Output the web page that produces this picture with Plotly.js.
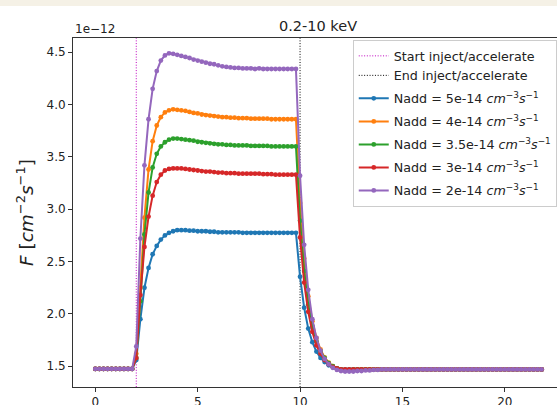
<!DOCTYPE html>
<html>
<head>
<meta charset="utf-8">
<script src="https://cdn.plot.ly/plotly-3.0.1.min.js"></script>
<style>
  html, body { margin: 0; padding: 0; background: #ffffff; overflow: hidden; }
  #strip { width: 557px; height: 6px; background: #f5f1e6; }
  #chart { width: 557px; height: 399px; }
</style>
</head>
<body>
<div id="strip"></div>
<div id="chart"></div>
<script>
// time grid
const time = [
  0, 0.2, 0.4, 0.6, 0.8, 1.0, 1.2, 1.4, 1.6, 1.8,
  2.0, 2.2, 2.4, 2.6, 2.8, 3.0, 3.2, 3.4, 3.6, 3.8,
  4.0, 4.2, 4.4, 4.6, 4.8, 5.0, 5.2, 5.4, 5.6, 5.8,
  6.0, 6.2, 6.4, 6.6, 6.8, 7.0, 7.2, 7.4, 7.6, 7.8,
  8.0, 8.2, 8.4, 8.6, 8.8, 9.0, 9.2, 9.4, 9.6, 9.8,
  10.0, 10.2, 10.4, 10.6, 10.8, 11.0, 11.2, 11.4, 11.6, 11.8,
  12.0, 12.2, 12.4, 12.6, 12.8, 13.0, 13.2, 13.4, 13.6, 13.8,
  14.0, 14.2, 14.4, 14.6, 14.8, 15.0, 15.2, 15.4, 15.6, 15.8,
  16.0, 16.2, 16.4, 16.6, 16.8, 17.0, 17.2, 17.4, 17.6, 17.8,
  18.0, 18.2, 18.4, 18.6, 18.8, 19.0, 19.2, 19.4, 19.6, 19.8,
  20.0, 20.2, 20.4, 20.6, 20.8, 21.0, 21.2, 21.4, 21.6, 21.8
];

// flux values, in units of 1e-12 cm^-2 s^-1
const flux_5e14 = [
  1.475, 1.475, 1.475, 1.475, 1.475, 1.475, 1.475, 1.475, 1.475, 1.475,
  1.56, 1.95, 2.25, 2.44, 2.57, 2.65, 2.71, 2.75, 2.775, 2.79,
  2.80, 2.80, 2.80, 2.795, 2.795, 2.79, 2.79, 2.79, 2.785, 2.785,
  2.78, 2.78, 2.78, 2.78, 2.78, 2.78, 2.775, 2.775, 2.775, 2.775,
  2.775, 2.775, 2.775, 2.775, 2.775, 2.775, 2.775, 2.775, 2.775, 2.775,
  2.355, 2.06, 1.86, 1.73, 1.64, 1.58, 1.54, 1.51, 1.49, 1.48,
  1.47, 1.47, 1.47, 1.47, 1.47, 1.47, 1.47, 1.47, 1.47, 1.47,
  1.47, 1.47, 1.47, 1.47, 1.47, 1.47, 1.47, 1.47, 1.47, 1.47,
  1.47, 1.47, 1.47, 1.47, 1.47, 1.47, 1.47, 1.47, 1.47, 1.47,
  1.47, 1.47, 1.47, 1.47, 1.47, 1.47, 1.47, 1.47, 1.47, 1.47,
  1.47, 1.47, 1.47, 1.47, 1.47, 1.47, 1.47, 1.47, 1.47, 1.47
];
const flux_4e14 = [
  1.475, 1.475, 1.475, 1.475, 1.475, 1.475, 1.475, 1.475, 1.475, 1.475,
  1.62, 2.25, 2.92, 3.38, 3.65, 3.80, 3.88, 3.925, 3.945, 3.955,
  3.95, 3.945, 3.94, 3.93, 3.92, 3.915, 3.905, 3.90, 3.895, 3.89,
  3.885, 3.88, 3.88, 3.875, 3.875, 3.87, 3.87, 3.87, 3.865, 3.865,
  3.865, 3.865, 3.865, 3.86, 3.86, 3.86, 3.86, 3.86, 3.86, 3.86,
  3.06, 2.53, 2.17, 1.93, 1.77, 1.66, 1.585, 1.535, 1.50, 1.48,
  1.47, 1.465, 1.465, 1.465, 1.47, 1.47, 1.47, 1.47, 1.47, 1.47,
  1.47, 1.47, 1.47, 1.47, 1.47, 1.47, 1.47, 1.47, 1.47, 1.47,
  1.47, 1.47, 1.47, 1.47, 1.47, 1.47, 1.47, 1.47, 1.47, 1.47,
  1.47, 1.47, 1.47, 1.47, 1.47, 1.47, 1.47, 1.47, 1.47, 1.47,
  1.47, 1.47, 1.47, 1.47, 1.47, 1.47, 1.47, 1.47, 1.47, 1.47
];
const flux_35e14 = [
  1.475, 1.475, 1.475, 1.475, 1.475, 1.475, 1.475, 1.475, 1.475, 1.475,
  1.58, 2.12, 2.76, 3.16, 3.40, 3.53, 3.60, 3.64, 3.665, 3.675,
  3.675, 3.67, 3.665, 3.66, 3.655, 3.645, 3.64, 3.635, 3.63, 3.625,
  3.62, 3.62, 3.615, 3.615, 3.61, 3.61, 3.61, 3.61, 3.605, 3.605,
  3.605, 3.605, 3.605, 3.60, 3.60, 3.60, 3.60, 3.60, 3.60, 3.60,
  2.89, 2.41, 2.09, 1.88, 1.74, 1.645, 1.58, 1.53, 1.50, 1.48,
  1.47, 1.465, 1.465, 1.47, 1.47, 1.47, 1.47, 1.47, 1.47, 1.47,
  1.47, 1.47, 1.47, 1.47, 1.47, 1.47, 1.47, 1.47, 1.47, 1.47,
  1.47, 1.47, 1.47, 1.47, 1.47, 1.47, 1.47, 1.47, 1.47, 1.47,
  1.47, 1.47, 1.47, 1.47, 1.47, 1.47, 1.47, 1.47, 1.47, 1.47,
  1.47, 1.47, 1.47, 1.47, 1.47, 1.47, 1.47, 1.47, 1.47, 1.47
];
const flux_3e14 = [
  1.475, 1.475, 1.475, 1.475, 1.475, 1.475, 1.475, 1.475, 1.475, 1.475,
  1.58, 2.18, 2.64, 2.93, 3.13, 3.26, 3.33, 3.37, 3.385, 3.39,
  3.39, 3.39, 3.385, 3.38, 3.375, 3.37, 3.365, 3.36, 3.36, 3.355,
  3.35, 3.35, 3.345, 3.345, 3.345, 3.34, 3.34, 3.34, 3.34, 3.34,
  3.34, 3.335, 3.335, 3.335, 3.33, 3.33, 3.33, 3.33, 3.33, 3.33,
  2.73, 2.30, 2.02, 1.83, 1.70, 1.62, 1.56, 1.52, 1.495, 1.48,
  1.47, 1.47, 1.47, 1.47, 1.47, 1.47, 1.47, 1.47, 1.47, 1.47,
  1.47, 1.47, 1.47, 1.47, 1.47, 1.47, 1.47, 1.47, 1.47, 1.47,
  1.47, 1.47, 1.47, 1.47, 1.47, 1.47, 1.47, 1.47, 1.47, 1.47,
  1.47, 1.47, 1.47, 1.47, 1.47, 1.47, 1.47, 1.47, 1.47, 1.47,
  1.47, 1.47, 1.47, 1.47, 1.47, 1.47, 1.47, 1.47, 1.47, 1.47
];
const flux_2e14 = [
  1.475, 1.475, 1.475, 1.475, 1.475, 1.475, 1.475, 1.475, 1.475, 1.475,
  1.69, 2.72, 3.42, 3.86, 4.15, 4.32, 4.42, 4.47, 4.49, 4.485,
  4.475, 4.465, 4.455, 4.445, 4.43, 4.42, 4.41, 4.40, 4.39, 4.385,
  4.375, 4.365, 4.36, 4.355, 4.35, 4.35, 4.345, 4.345, 4.345, 4.34,
  4.345, 4.34, 4.34, 4.34, 4.34, 4.34, 4.34, 4.34, 4.34, 4.34,
  3.32, 2.66, 2.23, 1.95, 1.77, 1.65, 1.57, 1.52, 1.485, 1.465,
  1.455, 1.45, 1.45, 1.45, 1.455, 1.455, 1.46, 1.46, 1.465, 1.465,
  1.47, 1.47, 1.47, 1.47, 1.47, 1.47, 1.47, 1.47, 1.47, 1.47,
  1.47, 1.47, 1.47, 1.47, 1.47, 1.47, 1.47, 1.47, 1.47, 1.47,
  1.47, 1.47, 1.47, 1.47, 1.47, 1.47, 1.47, 1.47, 1.47, 1.47,
  1.47, 1.47, 1.47, 1.47, 1.47, 1.47, 1.47, 1.47, 1.47, 1.47
];

const seriesNames = [
  "Nadd = 5e-14 <i>cm</i><sup>\u22123</sup><i>s</i><sup>\u22121</sup>",
  "Nadd = 4e-14 <i>cm</i><sup>\u22123</sup><i>s</i><sup>\u22121</sup>",
  "Nadd = 3.5e-14 <i>cm</i><sup>\u22123</sup><i>s</i><sup>\u22121</sup>",
  "Nadd = 3e-14 <i>cm</i><sup>\u22123</sup><i>s</i><sup>\u22121</sup>",
  "Nadd = 2e-14 <i>cm</i><sup>\u22123</sup><i>s</i><sup>\u22121</sup>"
];
const seriesValues = [flux_5e14, flux_4e14, flux_35e14, flux_3e14, flux_2e14];
const seriesColors = ["#1f77b4", "#ff7f0e", "#2ca02c", "#d62728", "#9467bd"];

const injectStart = 2;
const injectEnd = 10;
const xTicks = [0, 5, 10, 15, 20];
const yTicks = [1.5, 2.0, 2.5, 3.0, 3.5, 4.0, 4.5];

const xRange = [-1.09, 22.55];
const yRange = [1.302, 4.636];

const FONT = "DejaVu Sans, Verdana, sans-serif";
const TXT = "#222222";

const traces = [
  {
    x: [injectStart, injectStart], y: yRange, mode: "lines",
    name: "Start inject/accelerate", legendgroup: "v",
    line: { color: "#bf00bf", width: 1, dash: "1px,1.7px" },
    hoverinfo: "skip"
  },
  {
    x: [injectEnd, injectEnd], y: yRange, mode: "lines",
    name: "End inject/accelerate", legendgroup: "v",
    line: { color: "#000000", width: 1, dash: "1px,1.7px" },
    hoverinfo: "skip"
  }
];
for (let k = 0; k < seriesValues.length; k++) {
  traces.push({
    x: time, y: seriesValues[k], mode: "lines+markers",
    name: seriesNames[k], legendgroup: "s" + k,
    line: { color: seriesColors[k], width: 2 },
    marker: { color: seriesColors[k], size: 4.8 }
  });
}

const layout = {
  width: 557, height: 399,
  margin: { l: 73, r: 0, t: 32, b: 18, pad: 0 },
  paper_bgcolor: "#ffffff",
  plot_bgcolor: "#ffffff",
  font: { family: FONT, size: 12, color: TXT },
  showlegend: true,
  legend: {
    x: 0.578, y: 0.994, xanchor: "left", yanchor: "top",
    bgcolor: "rgba(255,255,255,0.9)", bordercolor: "#cccccc", borderwidth: 1,
    font: { family: FONT, size: 12.7, color: TXT },
    tracegroupgap: 3.5
  },
  xaxis: {
    range: xRange, tickvals: xTicks, ticktext: xTicks.map(String),
    showgrid: false, zeroline: false,
    showline: true, linecolor: "#333333", linewidth: 1, mirror: true,
    ticks: "outside", ticklen: 4, tickwidth: 1, tickcolor: "#333333",
    tickfont: { family: FONT, size: 12, color: TXT }
  },
  yaxis: {
    range: yRange, tickvals: yTicks, ticktext: yTicks.map(v => v.toFixed(1)),
    showgrid: false, zeroline: false,
    showline: true, linecolor: "#333333", linewidth: 1, mirror: false,
    ticks: "outside", ticklen: 4, tickwidth: 1, tickcolor: "#333333",
    tickfont: { family: FONT, size: 12, color: TXT }
  },
  annotations: [
    {
      text: "0.2-10 keV", xref: "paper", yref: "paper",
      x: 0.506, y: 1, xanchor: "center", yanchor: "bottom", yshift: 2,
      showarrow: false, font: { family: FONT, size: 14.5, color: TXT }
    },
    {
      text: "1e\u221212", xref: "paper", yref: "paper",
      x: 0, y: 1, xanchor: "left", yanchor: "bottom", yshift: 0,
      showarrow: false, font: { family: FONT, size: 12, color: TXT }
    },
    {
      text: "<i>F</i> [<i>cm</i><sup>\u22122</sup><i>s</i><sup>\u22121</sup>]",
      xref: "paper", yref: "paper",
      x: -0.1, y: 0.5, xanchor: "center", yanchor: "middle",
      textangle: -90, showarrow: false,
      font: { family: FONT, size: 18.5, color: TXT }
    }
  ]
};

Plotly.newPlot("chart", traces, layout, { displayModeBar: false, staticPlot: true });
</script>
</body>
</html>
